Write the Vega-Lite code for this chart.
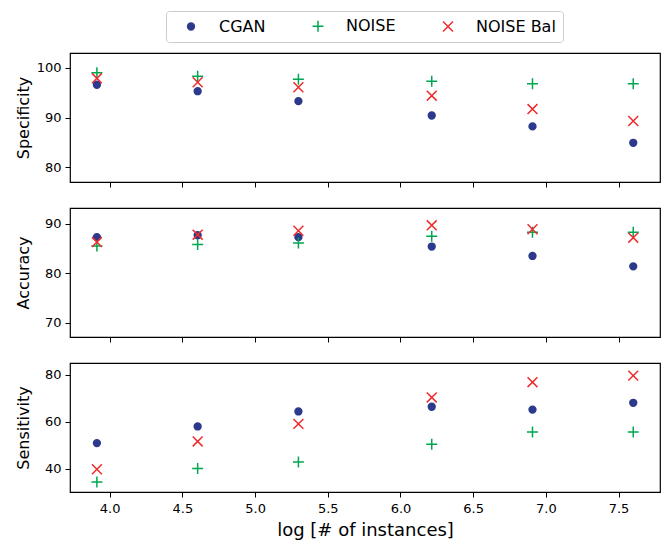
{
  "$schema": "https://vega.github.io/schema/vega-lite/v6.json",
  "padding": {"left": 14, "top": 10, "right": 5, "bottom": 5},
  "background": "white",
  "config": {
    "font": "DejaVu Sans",
    "view": {"stroke": "black", "strokeWidth": 1.2},
    "axis": {
      "domain": false,
      "grid": false,
      "ticks": true,
      "tickColor": "black",
      "tickSize": 5,
      "tickWidth": 1,
      "labelColor": "black",
      "labelFont": "DejaVu Sans",
      "labelFontSize": 13,
      "labelPadding": 4,
      "titleFont": "DejaVu Sans",
      "titleFontWeight": "normal",
      "titleColor": "black"
    },
    "legend": {
      "labelFont": "DejaVu Sans",
      "labelFontSize": 16,
      "labelColor": "black"
    }
  },
  "data": {
    "values": [
      {"logn": 3.912, "metric": "Specificity", "method": "CGAN", "value": 96.6},
      {"logn": 4.605, "metric": "Specificity", "method": "CGAN", "value": 95.3},
      {"logn": 5.298, "metric": "Specificity", "method": "CGAN", "value": 93.3},
      {"logn": 6.215, "metric": "Specificity", "method": "CGAN", "value": 90.4},
      {"logn": 6.908, "metric": "Specificity", "method": "CGAN", "value": 88.2},
      {"logn": 7.601, "metric": "Specificity", "method": "CGAN", "value": 84.9},
      {"logn": 3.912, "metric": "Specificity", "method": "NOISE", "value": 99.0},
      {"logn": 4.605, "metric": "Specificity", "method": "NOISE", "value": 98.3},
      {"logn": 5.298, "metric": "Specificity", "method": "NOISE", "value": 97.7},
      {"logn": 6.215, "metric": "Specificity", "method": "NOISE", "value": 97.3},
      {"logn": 6.908, "metric": "Specificity", "method": "NOISE", "value": 96.8},
      {"logn": 7.601, "metric": "Specificity", "method": "NOISE", "value": 96.8},
      {"logn": 3.912, "metric": "Specificity", "method": "NOISE Bal", "value": 97.9},
      {"logn": 4.605, "metric": "Specificity", "method": "NOISE Bal", "value": 97.1},
      {"logn": 5.298, "metric": "Specificity", "method": "NOISE Bal", "value": 96.1},
      {"logn": 6.215, "metric": "Specificity", "method": "NOISE Bal", "value": 94.4},
      {"logn": 6.908, "metric": "Specificity", "method": "NOISE Bal", "value": 91.7},
      {"logn": 7.601, "metric": "Specificity", "method": "NOISE Bal", "value": 89.3},
      {"logn": 3.912, "metric": "Accuracy", "method": "CGAN", "value": 87.3},
      {"logn": 4.605, "metric": "Accuracy", "method": "CGAN", "value": 87.7},
      {"logn": 5.298, "metric": "Accuracy", "method": "CGAN", "value": 87.3},
      {"logn": 6.215, "metric": "Accuracy", "method": "CGAN", "value": 85.4},
      {"logn": 6.908, "metric": "Accuracy", "method": "CGAN", "value": 83.5},
      {"logn": 7.601, "metric": "Accuracy", "method": "CGAN", "value": 81.4},
      {"logn": 3.912, "metric": "Accuracy", "method": "NOISE", "value": 85.5},
      {"logn": 4.605, "metric": "Accuracy", "method": "NOISE", "value": 85.8},
      {"logn": 5.298, "metric": "Accuracy", "method": "NOISE", "value": 86.1},
      {"logn": 6.215, "metric": "Accuracy", "method": "NOISE", "value": 87.5},
      {"logn": 6.908, "metric": "Accuracy", "method": "NOISE", "value": 88.3},
      {"logn": 7.601, "metric": "Accuracy", "method": "NOISE", "value": 88.3},
      {"logn": 3.912, "metric": "Accuracy", "method": "NOISE Bal", "value": 86.3},
      {"logn": 4.605, "metric": "Accuracy", "method": "NOISE Bal", "value": 87.8},
      {"logn": 5.298, "metric": "Accuracy", "method": "NOISE Bal", "value": 88.6},
      {"logn": 6.215, "metric": "Accuracy", "method": "NOISE Bal", "value": 89.7},
      {"logn": 6.908, "metric": "Accuracy", "method": "NOISE Bal", "value": 88.9},
      {"logn": 7.601, "metric": "Accuracy", "method": "NOISE Bal", "value": 87.2},
      {"logn": 3.912, "metric": "Sensitivity", "method": "CGAN", "value": 50.9},
      {"logn": 4.605, "metric": "Sensitivity", "method": "CGAN", "value": 58.0},
      {"logn": 5.298, "metric": "Sensitivity", "method": "CGAN", "value": 64.4},
      {"logn": 6.215, "metric": "Sensitivity", "method": "CGAN", "value": 66.4},
      {"logn": 6.908, "metric": "Sensitivity", "method": "CGAN", "value": 65.2},
      {"logn": 7.601, "metric": "Sensitivity", "method": "CGAN", "value": 68.1},
      {"logn": 3.912, "metric": "Sensitivity", "method": "NOISE", "value": 34.3},
      {"logn": 4.605, "metric": "Sensitivity", "method": "NOISE", "value": 40.0},
      {"logn": 5.298, "metric": "Sensitivity", "method": "NOISE", "value": 42.8},
      {"logn": 6.215, "metric": "Sensitivity", "method": "NOISE", "value": 50.4},
      {"logn": 6.908, "metric": "Sensitivity", "method": "NOISE", "value": 55.6},
      {"logn": 7.601, "metric": "Sensitivity", "method": "NOISE", "value": 55.6},
      {"logn": 3.912, "metric": "Sensitivity", "method": "NOISE Bal", "value": 39.7},
      {"logn": 4.605, "metric": "Sensitivity", "method": "NOISE Bal", "value": 51.6},
      {"logn": 5.298, "metric": "Sensitivity", "method": "NOISE Bal", "value": 59.1},
      {"logn": 6.215, "metric": "Sensitivity", "method": "NOISE Bal", "value": 70.4},
      {"logn": 6.908, "metric": "Sensitivity", "method": "NOISE Bal", "value": 76.9},
      {"logn": 7.601, "metric": "Sensitivity", "method": "NOISE Bal", "value": 79.7}
    ]
  },
  "vconcat": [
    {
      "width": 590,
      "height": 129,
      "transform": [{"filter": "datum.metric === 'Specificity'"}],
      "mark": {"type": "point", "strokeWidth": 1.5, "size": 121, "opacity": 1},
      "encoding": {
        "x": {"field": "logn", "type": "quantitative",
              "scale": {"domain": [3.727, 7.785], "nice": false, "zero": false},
              "axis": {"values": [4, 4.5, 5, 5.5, 6, 6.5, 7, 7.5], "labels": false, "title": null}},
        "y": {"field": "value", "type": "quantitative",
              "scale": {"domain": [77.0, 103.0], "nice": false, "zero": false},
              "axis": {"values": [80, 90, 100], "title": "Specificity", "titleFontSize": 16,
                       "titleX": -39, "titleY": 64.5, "titleBaseline": "bottom"}},
        "stroke": {"field": "method", "type": "nominal",
                   "scale": {"domain": ["CGAN", "NOISE", "NOISE Bal"], "range": ["#2d3a8c", "#00a650", "#ee2c2c"]},
                   "legend": {"title": null, "orient": "none", "legendX": 96, "legendY": -42,
                              "direction": "horizontal", "strokeColor": "#cccccc", "fillColor": "white",
                              "cornerRadius": 3, "padding": 7, "symbolSize": 121, "symbolStrokeWidth": 1.5,
                              "symbolOffset": 10, "labelOffset": 20, "columnPadding": 34}},
        "fill": {"field": "method", "type": "nominal",
                 "scale": {"domain": ["CGAN", "NOISE", "NOISE Bal"], "range": ["#2d3a8c", "transparent", "transparent"]},
                 "legend": {"title": null, "orient": "none", "legendX": 96, "legendY": -42,
                            "direction": "horizontal", "strokeColor": "#cccccc", "fillColor": "white",
                            "cornerRadius": 3, "padding": 7, "symbolSize": 121, "symbolStrokeWidth": 1.5,
                            "symbolOffset": 10, "labelOffset": 20, "columnPadding": 34}},
        "shape": {"field": "method", "type": "nominal",
                  "scale": {"domain": ["CGAN", "NOISE", "NOISE Bal"],
                            "range": ["M0.62,0A0.62,0.62,0,1,1,-0.62,0A0.62,0.62,0,1,1,0.62,0Z",
                                      "M-1,0L1,0M0,-1L0,1",
                                      "M-0.9,-0.9L0.9,0.9M-0.9,0.9L0.9,-0.9"]},
                  "legend": {"title": null, "orient": "none", "legendX": 96, "legendY": -42,
                             "direction": "horizontal", "strokeColor": "#cccccc", "fillColor": "white",
                             "cornerRadius": 3, "padding": 7, "symbolSize": 121, "symbolStrokeWidth": 1.5,
                             "symbolOffset": 10, "labelOffset": 20, "columnPadding": 34}}
      }
    },
    {
      "width": 590,
      "height": 129,
      "transform": [{"filter": "datum.metric === 'Accuracy'"}],
      "mark": {"type": "point", "strokeWidth": 1.5, "size": 121, "opacity": 1},
      "encoding": {
        "x": {"field": "logn", "type": "quantitative",
              "scale": {"domain": [3.727, 7.785], "nice": false, "zero": false},
              "axis": {"values": [4, 4.5, 5, 5.5, 6, 6.5, 7, 7.5], "labels": false, "title": null}},
        "y": {"field": "value", "type": "quantitative",
              "scale": {"domain": [67.1, 93.2], "nice": false, "zero": false},
              "axis": {"values": [70, 80, 90], "title": "Accuracy", "titleFontSize": 16,
                       "titleX": -39, "titleY": 64.5, "titleBaseline": "bottom"}},
        "stroke": {"field": "method", "type": "nominal"},
        "fill": {"field": "method", "type": "nominal"},
        "shape": {"field": "method", "type": "nominal"}
      }
    },
    {
      "width": 590,
      "height": 129,
      "transform": [{"filter": "datum.metric === 'Sensitivity'"}],
      "mark": {"type": "point", "strokeWidth": 1.5, "size": 121, "opacity": 1},
      "encoding": {
        "x": {"field": "logn", "type": "quantitative",
              "scale": {"domain": [3.727, 7.785], "nice": false, "zero": false},
              "axis": {"values": [4, 4.5, 5, 5.5, 6, 6.5, 7, 7.5], "format": ".1f",
                       "labelPadding": 5, "title": "log [# of instances]", "titleFontSize": 18, "titlePadding": 6}},
        "y": {"field": "value", "type": "quantitative",
              "scale": {"domain": [30.0, 85.1], "nice": false, "zero": false},
              "axis": {"values": [40, 60, 80], "title": "Sensitivity", "titleFontSize": 16,
                       "titleX": -39, "titleY": 64.5, "titleBaseline": "bottom"}},
        "stroke": {"field": "method", "type": "nominal"},
        "fill": {"field": "method", "type": "nominal"},
        "shape": {"field": "method", "type": "nominal"}
      }
    }
  ],
  "spacing": 26,
  "bounds": "flush",
  "resolve": {"scale": {"y": "independent"}}
}
